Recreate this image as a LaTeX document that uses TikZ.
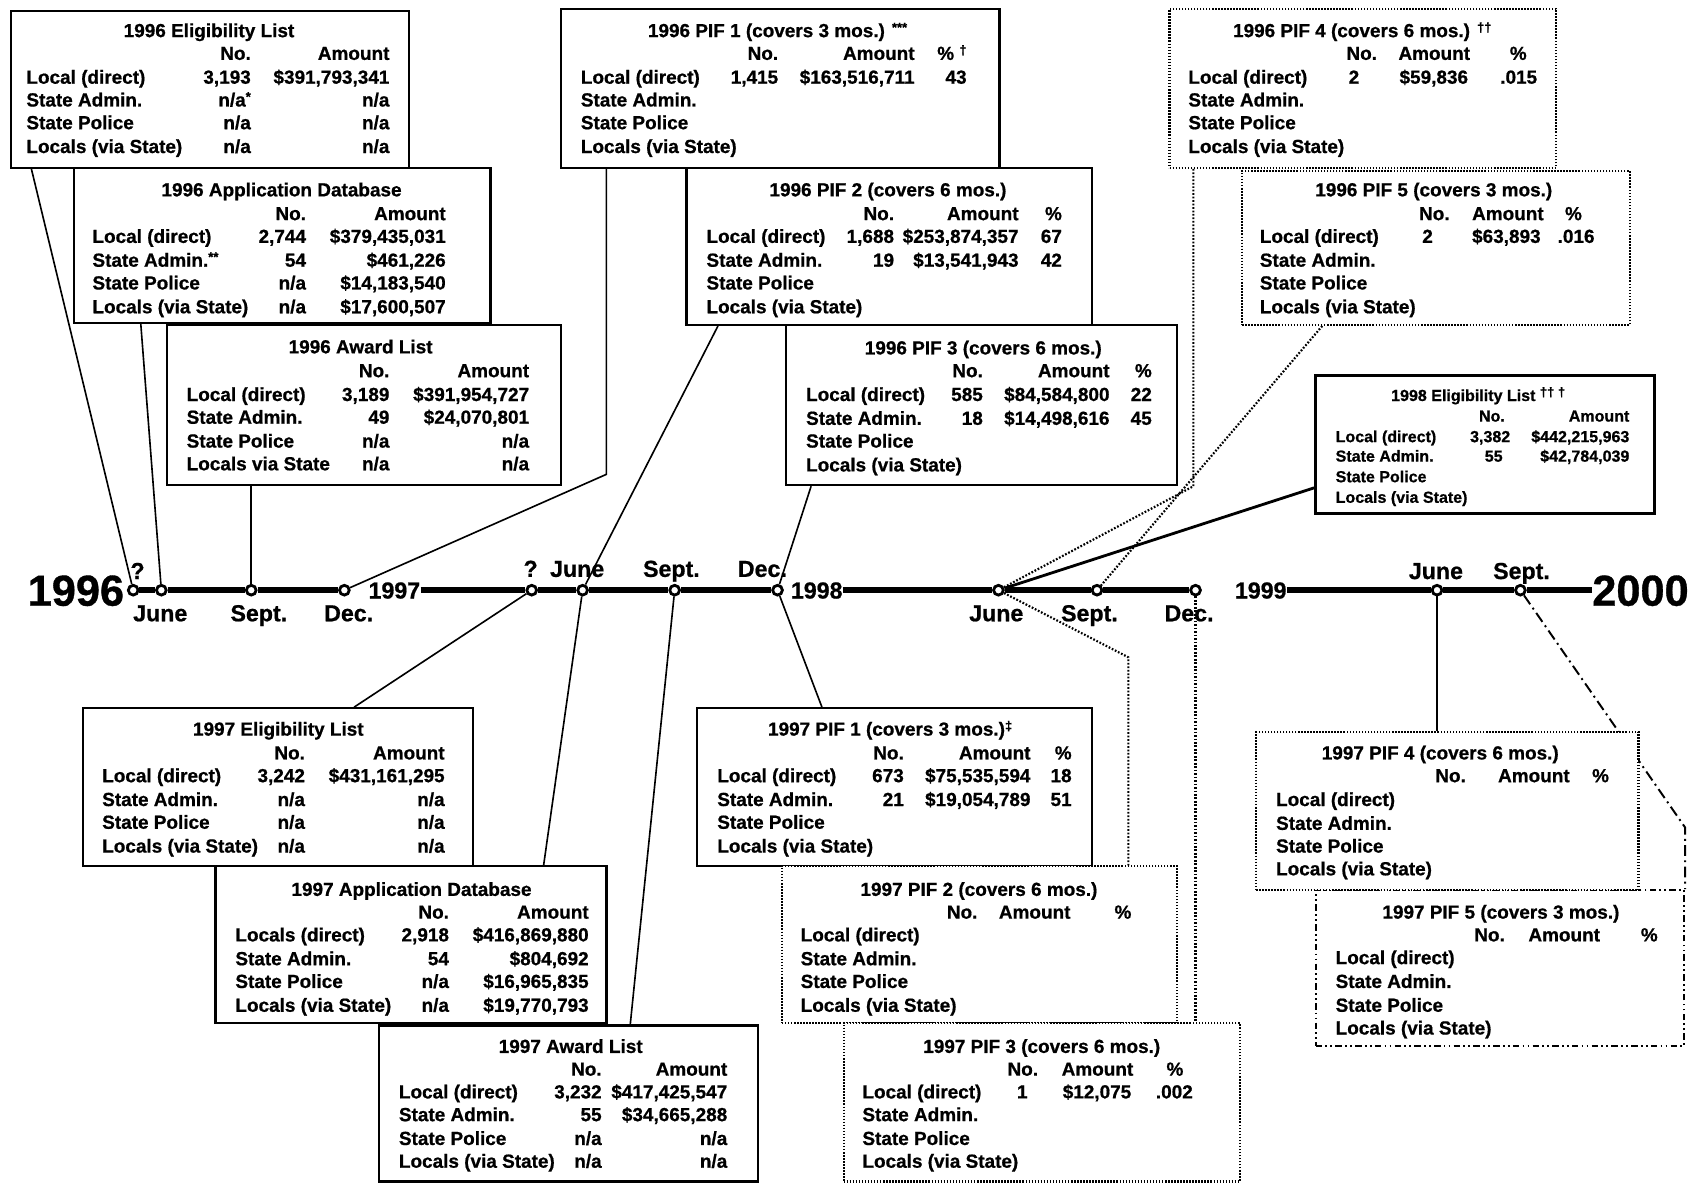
\documentclass[tikz,border=0pt]{standalone}
\usepackage{fontspec}
\setmainfont{Liberation Sans}[BoldFont={Liberation Sans Bold},BoldFeatures={FakeBold=0.8}]
\usetikzlibrary{fit,calc}
\pgfdeclarelayer{bg}
\pgfsetlayers{bg,main}
\newcommand\TabFont{\bfseries\fontsize{8.75}{10}\selectfont}
\newcommand\SmFont{\bfseries\fontsize{7.4}{9}\selectfont}
\newcommand\MonFont{\bfseries\fontsize{10.7}{12}\selectfont}
\newcommand\BigFont{\bfseries\fontsize{20}{24}\selectfont}
\newcommand\sups[1]{\raisebox{0.28em}{\fontsize{6}{6}\selectfont #1}}
\newcommand\TxL[5][tx]{\node[#1,anchor=west] (#2) at (#3,#4) {#5};}
\newcommand\TxR[5][tx]{\node[#1,anchor=east] (#2) at (#3,#4) {#5};}
\newcommand\TxC[5][tx]{\node[#1,anchor=center] (#2) at (#3,#4) {#5};}
\begin{document}
\begin{tikzpicture}[x=0.5pt,y=-0.5pt,
  tx/.style={inner sep=0pt, font=\TabFont, text height=6.3pt, text depth=0pt},
  txs/.style={inner sep=0pt, font=\SmFont, text height=5.3pt, text depth=0pt},
  mon/.style={inner sep=0pt, font=\MonFont, text height=7.7pt, text depth=0pt},
  big/.style={inner sep=0pt, font=\BigFont, text height=14.3pt, text depth=0pt},
  box/.style={draw, line width=1pt, fill=white, inner sep=0pt},
  dbox/.style={draw, line width=1pt, dash pattern=on 0.7pt off 0.7pt, fill=white, inner sep=0pt},
  ddbox/.style={draw, line width=1pt, dash pattern=on 3pt off 1.5pt on 0.8pt off 1.5pt on 0.8pt off 1.5pt, fill=white, inner sep=0pt},
  tbox/.style={draw, line width=1.5pt, fill=white, inner sep=0pt},
  conn/.style={line width=0.75pt},
  dconn/.style={line width=1pt, dash pattern=on 0.8pt off 0.8pt},
  ddconn/.style={line width=0.9pt, dash pattern=on 5pt off 2pt on 0.9pt off 2pt},
  tl/.style={line width=2.6pt},
  tick/.style={circle, draw, line width=1.3pt, fill=white, inner sep=0pt, minimum size=4.5pt}
]
\useasboundingbox (0,0) rectangle (1568,1092);
\begin{pgfonlayer}{bg}
\fill[white] (0,0) rectangle (1568,1092);
\end{pgfonlayer}

% ---------- timeline ticks and years ----------
\node[tick] (n96q) at (123,545) {};
\node[tick] (n96jun) at (149,545) {};
\node[tick] (n96sep) at (232,545) {};
\node[tick] (n96dec) at (318,545) {};
\node[tick] (n97q) at (491,545) {};
\node[tick] (n97jun) at (538,545) {};
\node[tick] (n97sep) at (623,545) {};
\node[tick] (n97dec) at (718,545) {};
\node[tick] (n98jun) at (922,545) {};
\node[tick] (n98sep) at (1013,545) {};
\node[tick] (n98dec) at (1104,545) {};
\node[tick] (n99jun) at (1327,545) {};
\node[tick] (n99sep) at (1404,545) {};

\node[big, anchor=east] (y96) at (115,545) {1996};
\node[big, anchor=west] (y00) at (1470,545) {2000};
\node[mon, anchor=west] (y97) at (340,545) {1997};
\node[mon, anchor=west] (y98) at (730,545) {1998};
\node[mon, anchor=west] (y99) at (1140,545) {1999};

\node[mon] (m96q) at (127,527) {?};
\node[mon] (m96jun) at (148,566) {June};
\node[mon] (m96sep) at (239,566) {Sept.};
\node[mon] (m96dec) at (322,566) {Dec.};
\node[mon] (m97q) at (490,525) {?};
\node[mon] (m97jun) at (533,525) {June};
\node[mon] (m97sep) at (620,525) {Sept.};
\node[mon] (m97dec) at (704,525) {Dec.};
\node[mon] (m98jun) at (920,566) {June};
\node[mon] (m98sep) at (1006,566) {Sept.};
\node[mon] (m98dec) at (1098,566) {Dec.};
\node[mon] (m99jun) at (1326,527) {June};
\node[mon] (m99sep) at (1405,527) {Sept.};

% ---------- boxes ----------
\node[box, fit={(10,10) (378,155)}] (E96) {};
\node[box, fit={(68,155) (453,298)}] (A96) {};
\node[box, fit={(154,300) (518,448)}] (W96) {};
\node[box, fit={(518,8) (923,155)}] (P196) {};
\node[box, fit={(634,155) (1008,300)}] (P296) {};
\node[box, fit={(726,300) (1087,448)}] (P396) {};
\node[dbox, fit={(1080,8) (1437,155)}] (P496) {};
\node[dbox, fit={(1147,158) (1505,300)}] (P596) {};
\node[tbox, fit={(1215,347) (1528,474)}] (E98) {};
\node[box, fit={(77,654) (437,800)}] (E97) {};
\node[box, fit={(199,800) (560,945)}] (A97) {};
\node[box, fit={(350,947) (700,1091)}] (W97) {};
\node[box, fit={(644,654) (1008,800)}] (P197) {};
\node[dbox, fit={(722,800) (1087,945)}] (P297) {};
\node[dbox, fit={(779,945) (1145,1091)}] (P397) {};
\node[ddbox, fit={(1215,822) (1555,966)}] (P597) {};
\node[dbox, fit={(1160,676) (1513,822)}] (P497) {};

% ---------- E96 ----------
\TxC{e96t}{193}{28}{1996 Eligibility List}
\TxR{e96hn}{232}{49}{No.}
\TxR{e96ha}{360}{49}{Amount}
\TxL{e96l1}{24}{71}{Local (direct)}
\TxL{e96l2}{24}{92}{State Admin.}
\TxL{e96l3}{24}{113}{State Police}
\TxL{e96l4}{24}{135}{Locals (via State)}
\TxR{e96n1}{232}{71}{3,193}
\TxR{e96n2}{232}{92}{n/a\sups{*}}
\TxR{e96n3}{232}{113}{n/a}
\TxR{e96n4}{232}{135}{n/a}
\TxR{e96a1}{360}{71}{\$391,793,341}
\TxR{e96a2}{360}{92}{n/a}
\TxR{e96a3}{360}{113}{n/a}
\TxR{e96a4}{360}{135}{n/a}

% ---------- A96 ----------
\TxC{a96t}{260}{175}{1996 Application Database}
\TxR{a96hn}{283}{197}{No.}
\TxR{a96ha}{412}{197}{Amount}
\TxL{a96l1}{85}{218}{Local (direct)}
\TxL{a96l2}{85}{240}{State Admin.\sups{**}}
\TxL{a96l3}{85}{261}{State Police}
\TxL{a96l4}{85}{283}{Locals (via State)}
\TxR{a96n1}{283}{218}{2,744}
\TxR{a96n2}{283}{240}{54}
\TxR{a96n3}{283}{261}{n/a}
\TxR{a96n4}{283}{283}{n/a}
\TxR{a96a1}{412}{218}{\$379,435,031}
\TxR{a96a2}{412}{240}{\$461,226}
\TxR{a96a3}{412}{261}{\$14,183,540}
\TxR{a96a4}{412}{283}{\$17,600,507}

% ---------- W96 ----------
\TxC{w96t}{333}{320}{1996 Award List}
\TxR{w96hn}{360}{342}{No.}
\TxR{w96ha}{489}{342}{Amount}
\TxL{w96l1}{172}{364}{Local (direct)}
\TxL{w96l2}{172}{385}{State Admin.}
\TxL{w96l3}{172}{407}{State Police}
\TxL{w96l4}{172}{428}{Locals via State}
\TxR{w96n1}{360}{364}{3,189}
\TxR{w96n2}{360}{385}{49}
\TxR{w96n3}{360}{407}{n/a}
\TxR{w96n4}{360}{428}{n/a}
\TxR{w96a1}{489}{364}{\$391,954,727}
\TxR{w96a2}{489}{385}{\$24,070,801}
\TxR{w96a3}{489}{407}{n/a}
\TxR{w96a4}{489}{428}{n/a}

% ---------- P196 ----------
\TxC{p196t}{718}{28}{1996 PIF 1 (covers 3 mos.) \sups{***}}
\TxR{p196hn}{719}{49}{No.}
\TxR{p196ha}{845}{49}{Amount}
\TxR{p196hp}{893}{49}{\% \sups{†}}
\TxL{p196l1}{536}{71}{Local (direct)}
\TxL{p196l2}{536}{92}{State Admin.}
\TxL{p196l3}{536}{113}{State Police}
\TxL{p196l4}{536}{135}{Locals (via State)}
\TxR{p196n1}{719}{71}{1,415}
\TxR{p196a1}{845}{71}{\$163,516,711}
\TxR{p196p1}{893}{71}{43}

% ---------- P296 ----------
\TxC{p296t}{820}{175}{1996 PIF 2 (covers 6 mos.)}
\TxR{p296hn}{826}{197}{No.}
\TxR{p296ha}{941}{197}{Amount}
\TxR{p296hp}{981}{197}{\%}
\TxL{p296l1}{652}{218}{Local (direct)}
\TxL{p296l2}{652}{240}{State Admin.}
\TxL{p296l3}{652}{261}{State Police}
\TxL{p296l4}{652}{283}{Locals (via State)}
\TxR{p296n1}{826}{218}{1,688}
\TxR{p296n2}{826}{240}{19}
\TxR{p296a1}{941}{218}{\$253,874,357}
\TxR{p296a2}{941}{240}{\$13,541,943}
\TxR{p296p1}{981}{218}{67}
\TxR{p296p2}{981}{240}{42}

% ---------- P396 ----------
\TxC{p396t}{908}{321}{1996 PIF 3 (covers 6 mos.)}
\TxR{p396hn}{908}{342}{No.}
\TxR{p396ha}{1025}{342}{Amount}
\TxR{p396hp}{1064}{342}{\%}
\TxL{p396l1}{744}{364}{Local (direct)}
\TxL{p396l2}{744}{386}{State Admin.}
\TxL{p396l3}{744}{407}{State Police}
\TxL{p396l4}{744}{429}{Locals (via State)}
\TxR{p396n1}{908}{364}{585}
\TxR{p396n2}{908}{386}{18}
\TxR{p396a1}{1025}{364}{\$84,584,800}
\TxR{p396a2}{1025}{386}{\$14,498,616}
\TxR{p396p1}{1064}{364}{22}
\TxR{p396p2}{1064}{386}{45}

% ---------- P496 ----------
\TxC{p496t}{1258}{28}{1996 PIF 4 (covers 6 mos.) \sups{††}}
\TxL{p496hn}{1243}{49}{No.}
\TxL{p496ha}{1291}{49}{Amount}
\TxC{p496hp}{1402}{49}{\%}
\TxL{p496l1}{1097}{71}{Local (direct)}
\TxL{p496l2}{1097}{92}{State Admin.}
\TxL{p496l3}{1097}{113}{State Police}
\TxL{p496l4}{1097}{135}{Locals (via State)}
\TxL{p496n1}{1245}{71}{2}
\TxL{p496a1}{1292}{71}{\$59,836}
\TxL{p496p1}{1385}{71}{.015}

% ---------- P596 ----------
\TxC{p596t}{1324}{175}{1996 PIF 5 (covers 3 mos.)}
\TxL{p596hn}{1310}{197}{No.}
\TxL{p596ha}{1359}{197}{Amount}
\TxC{p596hp}{1453}{197}{\%}
\TxL{p596l1}{1163}{218}{Local (direct)}
\TxL{p596l2}{1163}{240}{State Admin.}
\TxL{p596l3}{1163}{261}{State Police}
\TxL{p596l4}{1163}{283}{Locals (via State)}
\TxL{p596n1}{1313}{218}{2}
\TxL{p596a1}{1359}{218}{\$63,893}
\TxL{p596p1}{1438}{218}{.016}

% ---------- E98 ----------
\TxC[txs]{e98t}{1365}{365}{1998 Eligibility List \sups{†† †}}
\TxR[txs]{e98hn}{1390}{384}{No.}
\TxR[txs]{e98ha}{1505}{384}{Amount}
\TxL[txs]{e98l1}{1233}{403}{Local (direct)}
\TxL[txs]{e98l2}{1233}{421}{State Admin.}
\TxL[txs]{e98l3}{1233}{440}{State Police}
\TxL[txs]{e98l4}{1233}{459}{Locals (via State)}
\TxR[txs]{e98n1}{1395}{403}{3,382}
\TxR[txs]{e98n2}{1388}{421}{55}
\TxR[txs]{e98a1}{1505}{403}{\$442,215,963}
\TxR[txs]{e98a2}{1505}{421}{\$42,784,039}

% ---------- E97 ----------
\TxC{e97t}{257}{673}{1997 Eligibility List}
\TxR{e97hn}{282}{695}{No.}
\TxR{e97ha}{411}{695}{Amount}
\TxL{e97l1}{94}{716}{Local (direct)}
\TxL{e97l2}{94}{738}{State Admin.}
\TxL{e97l3}{94}{759}{State Police}
\TxL{e97l4}{94}{781}{Locals (via State)}
\TxR{e97n1}{282}{716}{3,242}
\TxR{e97n2}{282}{738}{n/a}
\TxR{e97n3}{282}{759}{n/a}
\TxR{e97n4}{282}{781}{n/a}
\TxR{e97a1}{411}{716}{\$431,161,295}
\TxR{e97a2}{411}{738}{n/a}
\TxR{e97a3}{411}{759}{n/a}
\TxR{e97a4}{411}{781}{n/a}

% ---------- A97 ----------
\TxC{a97t}{380}{821}{1997 Application Database}
\TxR{a97hn}{415}{842}{No.}
\TxR{a97ha}{544}{842}{Amount}
\TxL{a97l1}{217}{863}{Locals (direct)}
\TxL{a97l2}{217}{885}{State Admin.}
\TxL{a97l3}{217}{906}{State Police}
\TxL{a97l4}{217}{928}{Locals (via State)}
\TxR{a97n1}{415}{863}{2,918}
\TxR{a97n2}{415}{885}{54}
\TxR{a97n3}{415}{906}{n/a}
\TxR{a97n4}{415}{928}{n/a}
\TxR{a97a1}{544}{863}{\$416,869,880}
\TxR{a97a2}{544}{885}{\$804,692}
\TxR{a97a3}{544}{906}{\$16,965,835}
\TxR{a97a4}{544}{928}{\$19,770,793}

% ---------- W97 ----------
\TxC{w97t}{527}{966}{1997 Award List}
\TxR{w97hn}{556}{987}{No.}
\TxR{w97ha}{672}{987}{Amount}
\TxL{w97l1}{368}{1008}{Local (direct)}
\TxL{w97l2}{368}{1029}{State Admin.}
\TxL{w97l3}{368}{1051}{State Police}
\TxL{w97l4}{368}{1072}{Locals (via State)}
\TxR{w97n1}{556}{1008}{3,232}
\TxR{w97n2}{556}{1029}{55}
\TxR{w97n3}{556}{1051}{n/a}
\TxR{w97n4}{556}{1072}{n/a}
\TxR{w97a1}{672}{1008}{\$417,425,547}
\TxR{w97a2}{672}{1029}{\$34,665,288}
\TxR{w97a3}{672}{1051}{n/a}
\TxR{w97a4}{672}{1072}{n/a}

% ---------- P197 ----------
\TxC{p197t}{822}{673}{1997 PIF 1 (covers 3 mos.)\sups{‡}}
\TxR{p197hn}{835}{695}{No.}
\TxR{p197ha}{952}{695}{Amount}
\TxR{p197hp}{990}{695}{\%}
\TxL{p197l1}{662}{716}{Local (direct)}
\TxL{p197l2}{662}{738}{State Admin.}
\TxL{p197l3}{662}{759}{State Police}
\TxL{p197l4}{662}{781}{Locals (via State)}
\TxR{p197n1}{835}{716}{673}
\TxR{p197n2}{835}{738}{21}
\TxR{p197a1}{952}{716}{\$75,535,594}
\TxR{p197a2}{952}{738}{\$19,054,789}
\TxR{p197p1}{990}{716}{18}
\TxR{p197p2}{990}{738}{51}

% ---------- P297 ----------
\TxC{p297t}{904}{821}{1997 PIF 2 (covers 6 mos.)}
\TxL{p297hn}{874}{842}{No.}
\TxL{p297ha}{922}{842}{Amount}
\TxC{p297hp}{1037}{842}{\%}
\TxL{p297l1}{739}{863}{Local (direct)}
\TxL{p297l2}{739}{885}{State Admin.}
\TxL{p297l3}{739}{906}{State Police}
\TxL{p297l4}{739}{928}{Locals (via State)}

% ---------- P397 ----------
\TxC{p397t}{962}{966}{1997 PIF 3 (covers 6 mos.)}
\TxL{p397hn}{930}{987}{No.}
\TxL{p397ha}{980}{987}{Amount}
\TxC{p397hp}{1085}{987}{\%}
\TxL{p397l1}{796}{1008}{Local (direct)}
\TxL{p397l2}{796}{1029}{State Admin.}
\TxL{p397l3}{796}{1051}{State Police}
\TxL{p397l4}{796}{1072}{Locals (via State)}
\TxC{p397n1}{944}{1008}{1}
\TxL{p397a1}{981}{1008}{\$12,075}
\TxL{p397p1}{1067}{1008}{.002}

% ---------- P497 ----------
\TxC{p497t}{1330}{695}{1997 PIF 4 (covers 6 mos.)}
\TxL{p497hn}{1325}{716}{No.}
\TxL{p497ha}{1383}{716}{Amount}
\TxC{p497hp}{1478}{716}{\%}
\TxL{p497l1}{1178}{738}{Local (direct)}
\TxL{p497l2}{1178}{760}{State Admin.}
\TxL{p497l3}{1178}{781}{State Police}
\TxL{p497l4}{1178}{802}{Locals (via State)}

% ---------- P597 ----------
\TxC{p597t}{1386}{842}{1997 PIF 5 (covers 3 mos.)}
\TxL{p597hn}{1361}{863}{No.}
\TxL{p597ha}{1411}{863}{Amount}
\TxC{p597hp}{1523}{863}{\%}
\TxL{p597l1}{1233}{884}{Local (direct)}
\TxL{p597l2}{1233}{906}{State Admin.}
\TxL{p597l3}{1233}{928}{State Police}
\TxL{p597l4}{1233}{949}{Locals (via State)}

% ---------- connectors and timeline (background) ----------
\begin{pgfonlayer}{bg}
\draw[tl] (n96q) -- (n96jun) -- (n96sep) -- (n96dec);
\draw[tl] (y97) -- (n97q) -- (n97jun) -- (n97sep) -- (n97dec);
\draw[tl] (y98) -- (n98jun) -- (n98sep) -- (n98dec);
\draw[tl] (y99) -- (n99jun) -- (n99sep) -- (y00);

\draw[conn] ($(E96.south west)+(20,0)$) -- (n96q);
\draw[conn] ($(A96.south west)+(63,0)$) -- (n96jun);
\draw[conn] ($(W96.south west)+(79,0)$) -- (n96sep);
\draw[conn] ($(P196.south west)+(43,0)$) -- ++(0,282) -- (n96dec);
\draw[conn] ($(P296.south west)+(30,0)$) -- (n97jun);
\draw[conn] ($(P396.south west)+(24,0)$) -- (n97dec);
\draw[conn, line width=1.3pt] ($(E98.south west)+(0,-25)$) -- (n98jun);
\draw[dconn] ($(P496.south west)+(23,0)$) -- ++(0,293) -- (n98jun);
\draw[dconn] ($(P596.south west)+(75,0)$) -- (n98sep);

\draw[conn] ($(E97.north west)+(251,0)$) -- (n97q);
\draw[conn] ($(A97.north west)+(304,0)$) -- (n97jun);
\draw[conn] ($(W97.north west)+(233,0)$) -- (n97sep);
\draw[conn] ($(P197.north west)+(116,0)$) -- (n97dec);
\draw[dconn] (n98jun) -- ($(P297.north west)+(321,-192)$) -- ($(P297.north west)+(321,0)$);
\draw[dconn] (n98dec) -- (n98dec |- P397.north);
\draw[conn] (n99jun) -- (n99jun |- P497.north);
\draw[ddconn] (n99sep) -- ($(P597.north east)+(0,-57)$) -- (P597.north east);
\end{pgfonlayer}
\end{tikzpicture}
\end{document}
